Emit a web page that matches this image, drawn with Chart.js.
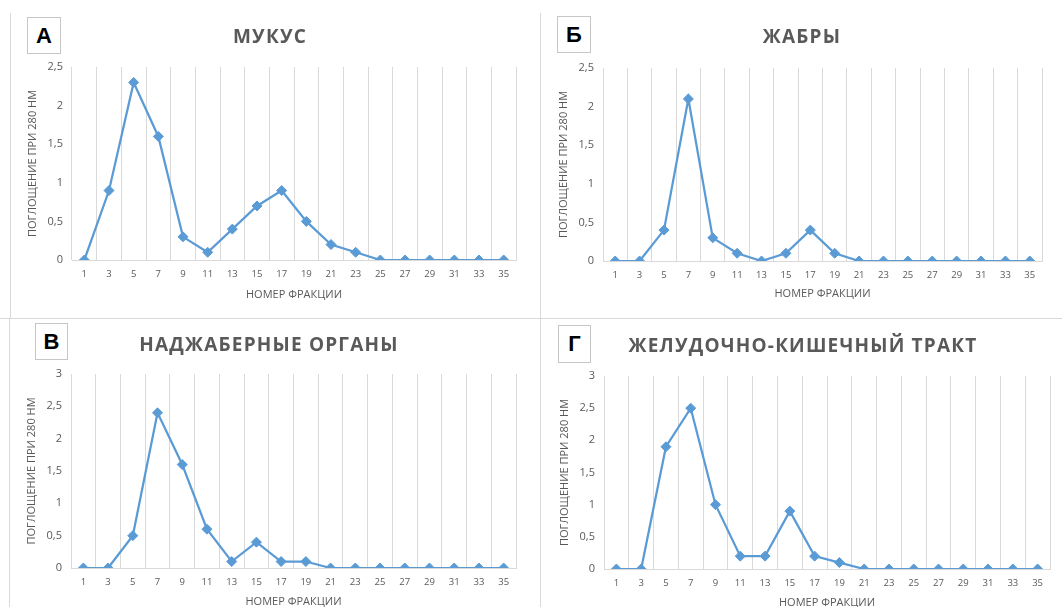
<!DOCTYPE html>
<html>
<head>
<meta charset="utf-8">
<script src="https://cdn.jsdelivr.net/npm/chart.js@4.4.1/dist/chart.umd.min.js"></script>
<style>
  html, body { margin: 0; padding: 0; background: #ffffff; }
  body { width: 1062px; height: 607px; overflow: hidden; position: relative; }
  .line { position: absolute; background: #d9d9d9; }
  .title { position: absolute; transform: translate(-50%, -50%); white-space: nowrap;
           font-family: "Open Sans", sans-serif; font-weight: 700; font-size: 19px;
           letter-spacing: 1.2px; color: #595959; }
  .letter { position: absolute; box-sizing: border-box; border: 1px solid #c6c6c6;
            display: flex; align-items: center; justify-content: center;
            font-family: "Liberation Sans", Arial, sans-serif; font-weight: 700; font-size: 22px; color: #000; background: #fff; }
  canvas { position: absolute; }
</style>
</head>
<body>
<div class="line" style="left:10px; top:13px; width:1px; height:306px;"></div>
<div class="line" style="left:540px; top:13px; width:1px; height:594px;"></div>
<div class="line" style="left:0px; top:318px; width:1062px; height:1px;"></div>
<div class="line" style="left:9px; top:319px; width:1px; height:288px;"></div>

<canvas id="cA"></canvas>
<canvas id="cB"></canvas>
<canvas id="cC"></canvas>
<canvas id="cD"></canvas>

<div class="letter" style="left:27px; top:17px; width:34px; height:37px;">А</div>
<div class="letter" style="left:557px; top:16px; width:34px; height:37px;">Б</div>
<div class="letter" style="left:35px; top:323px; width:33px; height:37px;">В</div>
<div class="letter" style="left:558px; top:325px; width:33px; height:38px;">Г</div>

<div class="title" style="left:270px; top:36px;">МУКУС</div>
<div class="title" style="left:802px; top:36px;">ЖАБРЫ</div>
<div class="title" style="left:269px; top:344px;">НАДЖАБЕРНЫЕ ОРГАНЫ</div>
<div class="title" style="left:803px; top:345px;">ЖЕЛУДОЧНО-КИШЕЧНЫЙ ТРАКТ</div>

<script>
// ---- data ----
const fractions = ['1','3','5','7','9','11','13','15','17','19','21','23','25','27','29','31','33','35'];
const mucusValues   = [0, 0.9, 2.3, 1.6, 0.3, 0.1, 0.4, 0.7, 0.9, 0.5, 0.2, 0.1, 0, 0, 0, 0, 0, 0];
const gillsValues   = [0, 0, 0.4, 2.1, 0.3, 0.1, 0, 0.1, 0.4, 0.1, 0, 0, 0, 0, 0, 0, 0, 0];
const suprabranchialValues = [0, 0, 0.5, 2.4, 1.6, 0.6, 0.1, 0.4, 0.1, 0.1, 0, 0, 0, 0, 0, 0, 0, 0];
const gutValues     = [0, 0, 1.9, 2.5, 1.0, 0.2, 0.2, 0.9, 0.2, 0.1, 0, 0, 0, 0, 0, 0, 0, 0];
const yMaxTop = 2.5;
const yMaxBottom = 3;
const yStep = 0.5;
const yAxisTitle = 'ПОГЛОЩЕНИЕ ПРИ 280 НМ';
const xAxisTitle = 'НОМЕР ФРАКЦИИ';

// ---- layout (plot rectangles) ----
const Y_AXIS_W = 60, PAD_TOP = 20, PAD_RIGHT = 10;
function makeChart(id, values, yMax, plot, xTitleY) {
  const left = plot.L - Y_AXIS_W;
  const top = plot.T - PAD_TOP;
  const width = plot.R + PAD_RIGHT - left;
  const bottom = xTitleY + 18;
  const height = bottom - top;
  const xAxisH = bottom - plot.B;
  const cv = document.getElementById(id);
  cv.width = width; cv.height = height;
  cv.style.left = left + 'px'; cv.style.top = top + 'px';
  cv.style.width = width + 'px'; cv.style.height = height + 'px';
  new Chart(cv, {
    type: 'line',
    data: {
      labels: fractions,
      datasets: [{
        data: values,
        borderColor: '#5B9BD5',
        backgroundColor: '#5B9BD5',
        borderWidth: 2.25,
        pointStyle: 'rectRot',
        pointRadius: 5,
        pointBackgroundColor: '#5B9BD5',
        pointBorderColor: '#5B9BD5',
        pointBorderWidth: 1,
        tension: 0,
        fill: false
      }]
    },
    options: {
      responsive: false,
      animation: false,
      devicePixelRatio: 1,
      layout: { padding: { top: PAD_TOP, right: PAD_RIGHT, left: 0, bottom: 0 } },
      plugins: { legend: { display: false }, tooltip: { enabled: false }, title: { display: false } },
      scales: {
        x: {
          type: 'category',
          offset: true,
          grid: { display: true, offset: true, color: '#d9d9d9', lineWidth: 1, drawTicks: false },
          border: { display: true, color: '#d9d9d9', width: 1 },
          ticks: { color: '#595959', font: { family: 'Open Sans', size: 9.5 }, padding: 9, maxRotation: 0, autoSkip: false },
          title: { display: true, text: xAxisTitle, color: '#595959', font: { family: 'Open Sans', size: 11 }, padding: { top: 0, bottom: 11 } },
          afterFit: (s) => { s.height = xAxisH; }
        },
        y: {
          min: 0, max: yMax,
          grid: { display: false, drawTicks: false },
          border: { display: false },
          ticks: { stepSize: yStep, color: '#595959', font: { family: 'Open Sans', size: 11 }, padding: 9,
                   callback: (v) => String(v).replace('.', ',') },
          title: { display: true, text: yAxisTitle, color: '#595959', font: { family: 'Open Sans', size: 11 }, padding: { top: 14, bottom: 0 } },
          afterFit: (s) => { s.width = Y_AXIS_W; }
        }
      }
    }
  });
}

makeChart('cA', mucusValues, yMaxTop, { L: 72, T: 67, R: 516, B: 260 }, 294);
makeChart('cB', gillsValues, yMaxTop, { L: 603, T: 68, R: 1042, B: 261 }, 293);
makeChart('cC', suprabranchialValues, yMaxBottom, { L: 71, T: 374, R: 516, B: 568 }, 601);
makeChart('cD', gutValues, yMaxBottom, { L: 604, T: 376, R: 1050, B: 569 }, 602);
</script>
</body>
</html>
